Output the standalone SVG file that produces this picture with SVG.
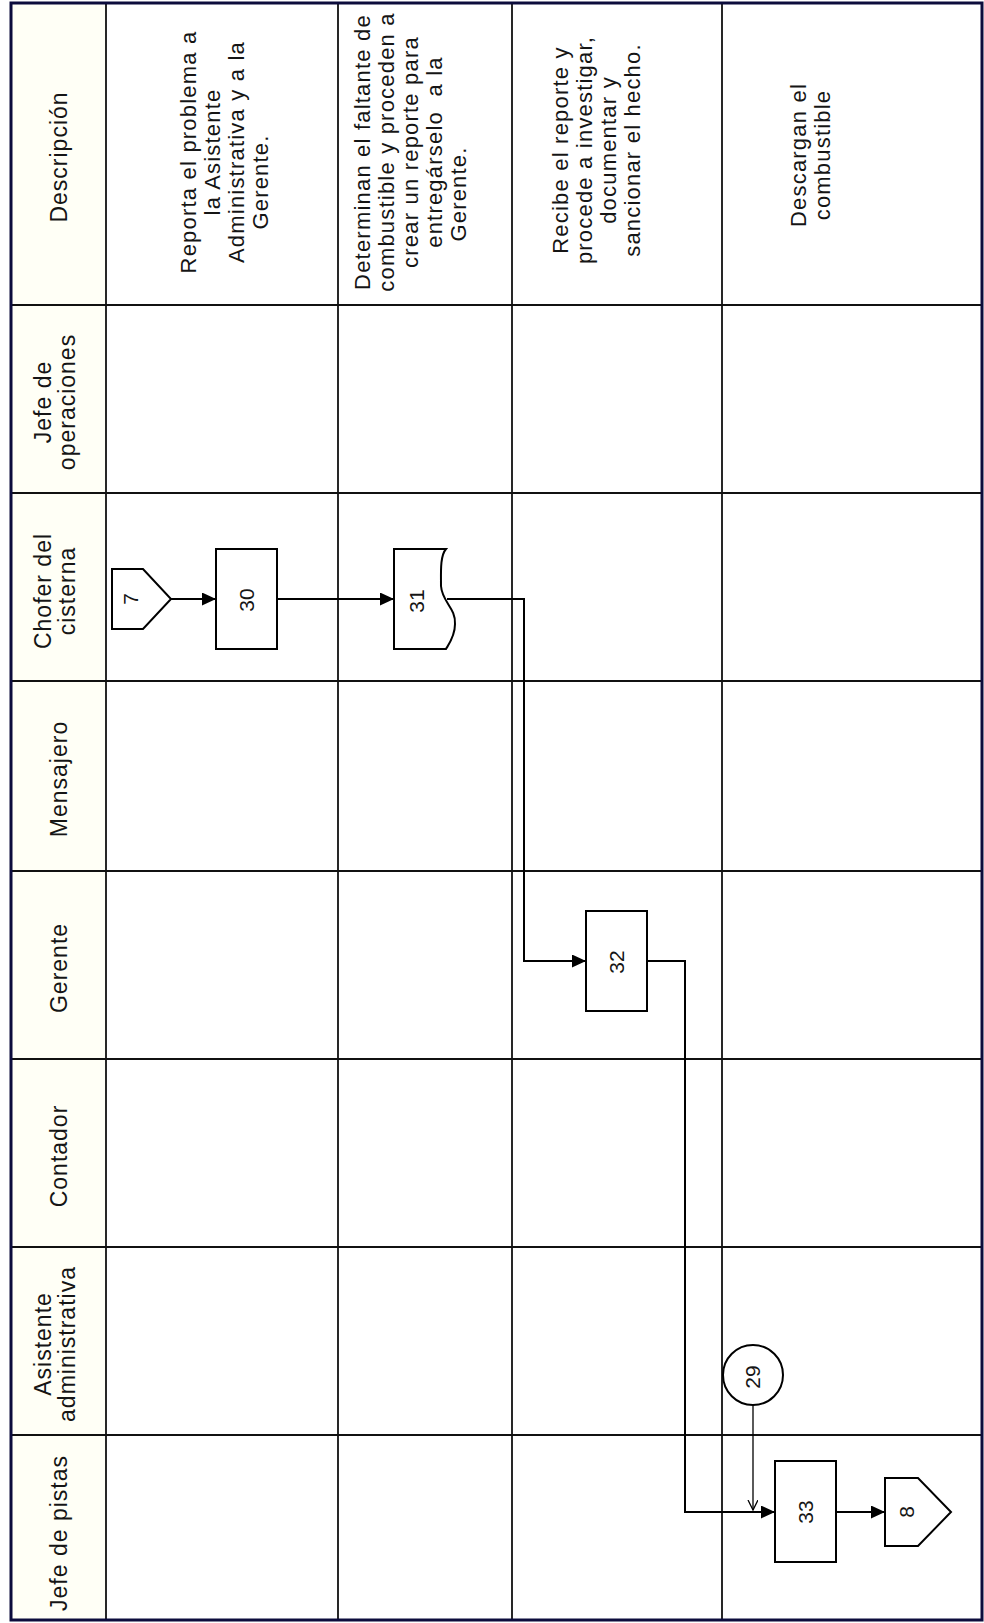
<svg xmlns="http://www.w3.org/2000/svg" width="984" height="1623" viewBox="0 0 984 1623">
<style>
.grid{stroke:#111;stroke-width:1.8;fill:none}
.border{stroke:#0c0c3c;stroke-width:3;fill:none}
.shape{stroke:#000;stroke-width:2;fill:#fff}
.conn{stroke:#000;stroke-width:2;fill:none}
.thin{stroke:#000;stroke-width:1.3;fill:none}
.h{font-family:"Liberation Sans",Arial,sans-serif;font-size:23px;fill:#151515;text-anchor:middle;letter-spacing:1px}
.t{font-family:"Liberation Sans",Arial,sans-serif;font-size:22px;fill:#151515;text-anchor:middle;letter-spacing:1.2px}
.n{font-family:"Liberation Sans",Arial,sans-serif;font-size:21px;fill:#151515;text-anchor:middle}
</style>
<defs>
<marker id="ah" markerUnits="userSpaceOnUse" markerWidth="15" markerHeight="14" refX="14" refY="6.5" orient="auto">
<path d="M0,0 L14,6.5 L0,13 Z" fill="#000"/>
</marker>
<marker id="ao" markerUnits="userSpaceOnUse" markerWidth="12" markerHeight="12" refX="10" refY="5" orient="auto">
<path d="M0,0 L10,5 L0,10" fill="none" stroke="#000" stroke-width="1.3"/>
</marker>
</defs>
<rect x="0" y="0" width="984" height="1623" fill="#fff"/>
<rect x="11" y="3" width="95" height="1617" fill="#fffff6"/>

<g id="grid">
<path class="grid" d="M106,3 V1620 M338,3 V1620 M512,3 V1620 M722,3 V1620"/>
<path class="grid" d="M11,305 H982 M11,493 H982 M11,681 H982 M11,871 H982 M11,1059 H982 M11,1247 H982 M11,1435 H982"/>
<rect class="border" x="11" y="3" width="971" height="1617"/>
</g>

<g id="headers">
<text class="h" transform="translate(58.5,157) rotate(-90)"><tspan x="0" y="8">Descripción</tspan></text>
<text class="h" transform="translate(55,402) rotate(-90)"><tspan x="0" y="-4">Jefe de</tspan><tspan x="0" y="20">operaciones</tspan></text>
<text class="h" transform="translate(55,591) rotate(-90)"><tspan x="0" y="-4">Chofer del</tspan><tspan x="0" y="20">cisterna</tspan></text>
<text class="h" transform="translate(58.5,779) rotate(-90)"><tspan x="0" y="8">Mensajero</tspan></text>
<text class="h" transform="translate(58.5,968) rotate(-90)"><tspan x="0" y="8">Gerente</tspan></text>
<text class="h" transform="translate(58.5,1156) rotate(-90)"><tspan x="0" y="8">Contador</tspan></text>
<text class="h" transform="translate(55,1344) rotate(-90)"><tspan x="0" y="-4">Asistente</tspan><tspan x="0" y="20">administrativa</tspan></text>
<text class="h" transform="translate(58.5,1533) rotate(-90)"><tspan x="0" y="8">Jefe de pistas</tspan></text>
</g>

<g id="descriptions">
<text class="t" transform="translate(224,152) rotate(-90)"><tspan x="0" y="-28">Reporta el problema a</tspan><tspan x="0" y="-4">la Asistente</tspan><tspan x="0" y="20">Administrativa y a la</tspan><tspan x="-30" y="44">Gerente.</tspan></text>
<text class="t" transform="translate(410,152) rotate(-90)"><tspan x="0" y="-40">Determinan el faltante de</tspan><tspan x="0" y="-16">combustible y proceden a</tspan><tspan x="0" y="8">crear un reporte para</tspan><tspan x="0" y="32" style="white-space:pre">entregárselo  a la</tspan><tspan x="-42" y="56">Gerente.</tspan></text>
<text class="t" transform="translate(596,150) rotate(-90)"><tspan x="0" y="-28">Recibe el reporte y</tspan><tspan x="0" y="-4">procede a investigar,</tspan><tspan x="0" y="20">documentar y</tspan><tspan x="0" y="44">sancionar el hecho.</tspan></text>
<text class="t" transform="translate(810,155) rotate(-90)"><tspan x="0" y="-4">Descargan el</tspan><tspan x="0" y="20">combustible</tspan></text>
</g>

<g id="connectors">
<path class="conn" d="M171,599 H216" marker-end="url(#ah)"/>
<path class="conn" d="M277,599 H394" marker-end="url(#ah)"/>
<path class="conn" d="M447,599 H524 V961 H586" marker-end="url(#ah)"/>
<path class="conn" d="M647,961 H685 V1512 H775" marker-end="url(#ah)"/>
<path class="thin" d="M753,1405 V1510" marker-end="url(#ao)"/>
<path class="conn" d="M835,1512 H885" marker-end="url(#ah)"/>
</g>

<g id="n7">
<path class="shape" d="M112,569 H143 L171,599 L143,629 H112 Z"/>
<text class="n" transform="translate(130,599) rotate(-90)" y="7.5">7</text>
</g>
<g id="n30">
<rect class="shape" x="216" y="549" width="61" height="100"/>
<text class="n" transform="translate(246,600) rotate(-90)" y="7.5">30</text>
</g>
<g id="n31">
<path class="shape" d="M394,549 H446 C440,556 441,572 441,586 C442,602 456,608 455,624 C455,636 449,644 446,649 H394 Z"/>
<text class="n" transform="translate(416,601) rotate(-90)" y="7.5">31</text>
</g>
<g id="n32">
<rect class="shape" x="586" y="911" width="61" height="100"/>
<text class="n" transform="translate(616,962) rotate(-90)" y="7.5">32</text>
</g>
<g id="n29">
<circle class="shape" cx="753" cy="1375" r="30"/>
<text class="n" transform="translate(752,1377) rotate(-90)" y="7.5">29</text>
</g>
<g id="n33">
<rect class="shape" x="775" y="1461" width="61" height="101"/>
<text class="n" transform="translate(805,1512) rotate(-90)" y="7.5">33</text>
</g>
<g id="n8">
<path class="shape" d="M885,1478 H918 L951,1512 L918,1546 H885 Z"/>
<text class="n" transform="translate(906,1512) rotate(-90)" y="7.5">8</text>
</g>
</svg>
